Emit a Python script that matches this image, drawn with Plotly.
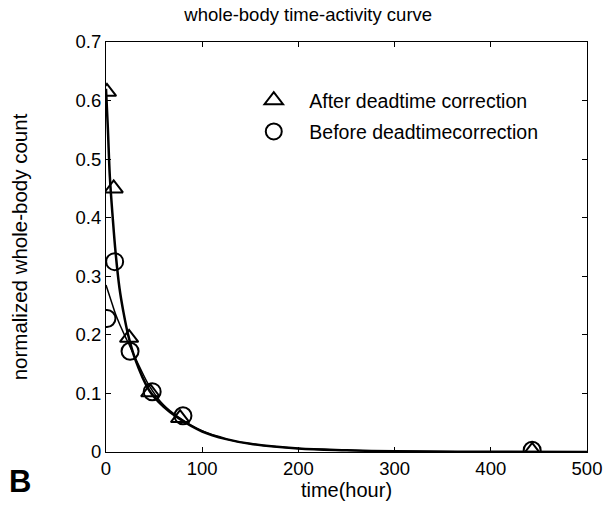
import plotly.graph_objects as go

# measured data points
after_t = [1, 8, 24, 46, 77, 443]
after_y = [0.615, 0.45, 0.195, 0.102, 0.058, 0.002]
before_t = [1, 9, 25, 48, 80, 443]
before_y = [0.228, 0.325, 0.172, 0.103, 0.062, 0.003]

# curves
curve_after_t = [0, 2, 4, 7, 10, 14, 18, 23, 30, 45, 60, 75, 100, 125, 150, 200, 250, 300, 400, 500]
curve_after_y = [0.62, 0.55, 0.47, 0.40, 0.34, 0.28, 0.24, 0.20, 0.16, 0.105, 0.077, 0.058, 0.035, 0.022, 0.014, 0.006, 0.003, 0.0012, 0.0003, 0.0]
curve_before_t = [0, 5, 10, 15, 20, 25, 35, 45, 60, 75, 100, 125, 150, 200, 250, 300, 400, 500]
curve_before_y = [0.285, 0.26, 0.235, 0.215, 0.197, 0.18, 0.145, 0.113, 0.08, 0.06, 0.036, 0.022, 0.014, 0.006, 0.003, 0.0012, 0.0003, 0.0]

xticks = [0, 100, 200, 300, 400, 500]
yticks = [0, 0.1, 0.2, 0.3, 0.4, 0.5, 0.6, 0.7]

FONT = "Liberation Sans, Arial, sans-serif"

fig = go.Figure()
fig.add_trace(go.Scatter(x=curve_after_t, y=curve_after_y, mode="lines",
                         line=dict(color="black", width=2.5, shape="spline"), showlegend=False))
fig.add_trace(go.Scatter(x=curve_before_t, y=curve_before_y, mode="lines",
                         line=dict(color="black", width=1.5, shape="spline"), showlegend=False))
fig.add_trace(go.Scatter(x=after_t, y=after_y, mode="markers", name="After deadtime correction",
                         legendgroup="a",
                         marker=dict(symbol="triangle-up-open", size=16, color="black", line=dict(width=2))))
fig.add_trace(go.Scatter(x=before_t, y=before_y, mode="markers", name="Before deadtimecorrection",
                         legendgroup="b",
                         marker=dict(symbol="circle-open", size=17, color="black", line=dict(width=2))))

axis_common = dict(showline=True, linecolor="black", linewidth=1, mirror="ticks",
                   ticks="inside", ticklen=5, tickcolor="black", showgrid=False, zeroline=False,
                   tickfont=dict(family=FONT, size=18.5, color="black"))

fig.update_layout(
    width=614, height=512,
    margin=dict(l=106, r=24, t=42, b=60),
    paper_bgcolor="white", plot_bgcolor="white",
    font=dict(family=FONT, color="black"),
    title=dict(text="whole-body time-activity curve", xref="container", yref="container",
               x=0.502, xanchor="center", y=0.971, yanchor="middle",
               font=dict(family=FONT, size=18.5, color="black")),
    xaxis=dict(range=[0, 500], tickvals=xticks, ticktext=[str(v) for v in xticks],
               title=dict(text="time(hour)", font=dict(family=FONT, size=20), standoff=2), **axis_common),
    yaxis=dict(range=[0, 0.7], tickvals=yticks, ticktext=["0", "0.1", "0.2", "0.3", "0.4", "0.5", "0.6", "0.7"],
               title=dict(text="normalized whole-body count", font=dict(family=FONT, size=20.5), standoff=42),
               **axis_common),
    legend=dict(x=0.275, y=0.905, xanchor="left", yanchor="top", bgcolor="rgba(0,0,0,0)",
                font=dict(family=FONT, size=19.5, color="black"), tracegroupgap=3, itemwidth=61),
    annotations=[dict(text="<b>B</b>", xref="paper", yref="paper", x=-0.178, y=-0.073,
                      xanchor="center", yanchor="middle", showarrow=False,
                      font=dict(family=FONT, size=31, color="black"))],
)

fig.write_html("out.html", config={"displayModeBar": False},
               post_script="document.body.style.margin='0';")
